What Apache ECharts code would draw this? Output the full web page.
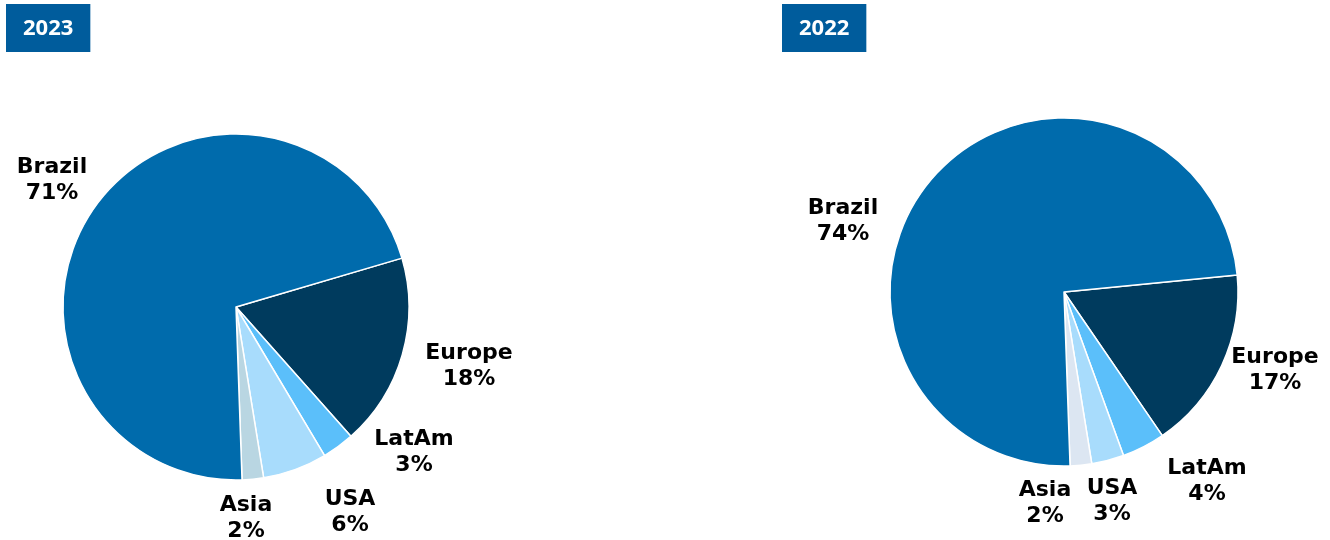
<!DOCTYPE html>
<html>
<head>
<meta charset="utf-8">
<script src="https://cdn.jsdelivr.net/npm/echarts@6/dist/echarts.min.js"></script>
<style>
html,body{margin:0;padding:0;background:#fff;}
#chart{width:1330px;height:540px;}
</style>
</head>
<body>
<div id="chart"></div>
<script>
// Data
var regions = ['Europe', 'LatAm', 'USA', 'Asia', 'Brazil'];
var share2023 = [18, 3, 6, 2, 71];
var share2022 = [17, 4, 3, 2, 74];
var years = ['2023', '2022'];

// Styles (not data)
var colors2023 = ['#003B5E', '#5BBFFA', '#A8DCFC', '#B9D6E2', '#006BAC'];
var colors2022 = ['#003B5E', '#5BBFFA', '#A8DCFC', '#DCE6F2', '#006BAC'];
// label block centres (layout only)
var labelPos2023 = [[469, 366], [414, 452], [350, 512], [246, 518], [52, 180]];
var labelPos2022 = [[1275, 370], [1207, 481], [1112, 501], [1045, 503], [843, 221]];

function build(values, cols) {
  return regions.map(function (r, i) {
    return { name: r, value: values[i], itemStyle: { color: cols[i] } };
  });
}

var labelStyle = {
  show: true,
  position: 'outside',
  formatter: function (p) { return p.name + '\n' + p.value + '%'; },
  fontFamily: 'DejaVu Sans',
  fontWeight: 'bold',
  fontSize: 22,
  lineHeight: 26,
  color: '#000',
  align: 'center'
};

function layoutFor(pos) {
  return function (params) {
    var p = pos[params.dataIndex];
    return { x: p[0], y: p[1], align: 'center', verticalAlign: 'middle' };
  };
}

var titleText = { color: '#fff', fontFamily: 'Noto Sans', fontWeight: 'bold', fontSize: 22, lineHeight: 30 };

var chart = echarts.init(document.getElementById('chart'));
chart.setOption({
  animation: false,
  title: [
    { text: years[0], left: 6, top: 4, backgroundColor: '#005C9C', padding: [10, 17, 8, 17], textStyle: titleText },
    { text: years[1], left: 782, top: 4, backgroundColor: '#005C9C', padding: [10, 17, 8, 17], textStyle: titleText }
  ],
  series: [
    {
      type: 'pie', center: [236, 307], radius: 173, startAngle: 16.4, clockwise: true,
      avoidLabelOverlap: false,
      itemStyle: { borderColor: '#fff', borderWidth: 1.5 },
      label: labelStyle, labelLine: { show: false },
      labelLayout: layoutFor(labelPos2023),
      emphasis: { disabled: true },
      data: build(share2023, colors2023)
    },
    {
      type: 'pie', center: [1064, 292], radius: 174, startAngle: 5.6, clockwise: true,
      avoidLabelOverlap: false,
      itemStyle: { borderColor: '#fff', borderWidth: 1.5 },
      label: labelStyle, labelLine: { show: false },
      labelLayout: layoutFor(labelPos2022),
      emphasis: { disabled: true },
      data: build(share2022, colors2022)
    }
  ]
});
</script>
</body>
</html>
